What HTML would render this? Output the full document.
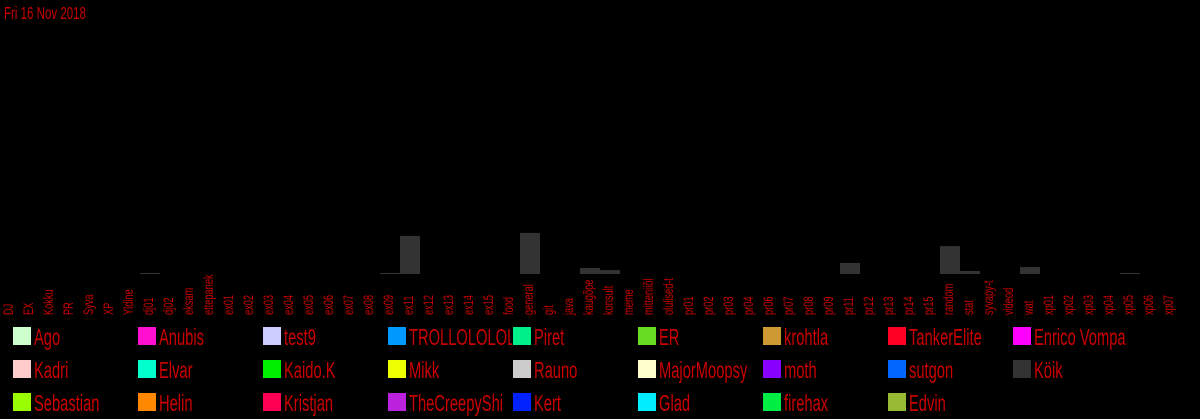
<!DOCTYPE html>
<html><head><meta charset="utf-8"><style>
html,body{margin:0;padding:0;background:#000;width:1200px;height:419px;overflow:hidden}
svg{display:block}
text{font-family:"Liberation Sans Narrow","Liberation Sans",sans-serif;fill:#cc0000}
</style></head><body>
<svg id="chart" width="1200" height="419" xmlns="http://www.w3.org/2000/svg">
<rect width="1200" height="419" fill="#000"/>
<text x="0" y="0" font-size="18" transform="translate(4,19) scale(0.64,1)">Fri 16 Nov 2018</text>
<g id="bars"></g>
<g id="xlabels"></g>
<g id="legend"></g>
</svg>
<script>
const categories=["DJ","EX","Kokku","PR","Syva","XP","Yldine","dj01","dj02","eksam","ettepanek","ex01","ex02","ex03","ex04","ex05","ex06","ex07","ex08","ex09","ex11","ex12","ex13","ex14","ex15","food","general","git","java","kaugõpe","konsult","meme","mitteniiõl","olulised-t","pr01","pr02","pr03","pr04","pr06","pr07","pr08","pr09","pr11","pr12","pr13","pr14","pr15","random","stat","syvapy-t","videod","wat","xp01","xp02","xp03","xp04","xp05","xp06","xp07"];
const values=[0,0,0,0,0,0,0,0.3,0,0,0,0,0,0,0,0,0,0,0,0.3,12.7,0,0,0,0,0,13.7,0,0,2,1.3,0,0,0,0,0,0,0,0,0,0,0,3.7,0,0,0,0,9.3,1,0,0,2.3,0,0,0,0,0.3,0,0];
const legendNames=["Ago","Anubis","test9","TROLLOLOLOLO","Piret","ER","krohtla","TankerElite","Enrico Vompa","Kadri","Elvar","Kaido.K","Mikk","Rauno","MajorMoopsy","moth","sutgon","Köik","Sebastian","Helin","Kristjan","TheCreepyShi","Kert","Glad","firehax","Edvin"];
const legendColors=["#ccffcc","#ff10d0","#ccccff","#0099ff","#00ee88","#66dd22","#cc9933","#ff0022","#ff00ff","#ffcccc","#00ffcc","#00ee00","#eeff00","#cccccc","#ffffcc","#8800ff","#0066ff","#333333","#99ff00","#ff8800","#ff0055","#bb22dd","#0022ff","#00eeff","#00ee44","#99bb33"];
const NS="http://www.w3.org/2000/svg";
const baseY=274, slotW=20, pxPerUnit=3;
function xPos(i){return i*slotW;}
function yH(v){return v*pxPerUnit;}
const bars=document.getElementById('bars'), xl=document.getElementById('xlabels'), lg=document.getElementById('legend');
categories.forEach((c,i)=>{
  const v=values[i];
  if(v>0){
    const r=document.createElementNS(NS,'rect');
    const h=Math.max(1,yH(v));
    r.setAttribute('x',xPos(i));r.setAttribute('y',baseY-h);
    r.setAttribute('width',slotW);r.setAttribute('height',h);
    r.setAttribute('fill','#333333');
    
    
    bars.appendChild(r);
  }
  const t=document.createElementNS(NS,'text');
  const cx=xPos(i)+13;
  t.setAttribute('x',0);t.setAttribute('y',0);
  t.setAttribute('font-size','14');
  t.setAttribute('transform','translate('+cx+',315) rotate(-90) scale(0.66,1)');
  t.textContent=c;
  
  
  xl.appendChild(t);
});
legendNames.forEach((n,i)=>{
  const col=i%9,row=Math.floor(i/9);
  const x=13+col*125,y=327+row*33;
  const g=document.createElementNS(NS,'g');
  
  
  const s=document.createElementNS(NS,'rect');
  s.setAttribute('x',x);s.setAttribute('y',y);s.setAttribute('width',18);s.setAttribute('height',18);
  s.setAttribute('fill',legendColors[i]);
  
  
  g.appendChild(s);
  const cp=document.createElementNS(NS,'clipPath');
  cp.setAttribute('id','cp'+i);
  const cr=document.createElementNS(NS,'rect');
  cr.setAttribute('x',x+20);cr.setAttribute('y',y-5);cr.setAttribute('width',104);cr.setAttribute('height',30);
  cp.appendChild(cr);g.appendChild(cp);
  const tg=document.createElementNS(NS,'g');
  tg.setAttribute('clip-path','url(#cp'+i+')');
  const t=document.createElementNS(NS,'text');
  t.setAttribute('font-size','23');
  t.setAttribute('x',0);t.setAttribute('y',0);
  t.setAttribute('transform','translate('+(x+21)+','+(y+18)+') scale(0.64,1)');
  t.textContent=n;
  
  
  tg.appendChild(t);
  g.appendChild(tg);
  lg.appendChild(g);
});
</script>
</body></html>
